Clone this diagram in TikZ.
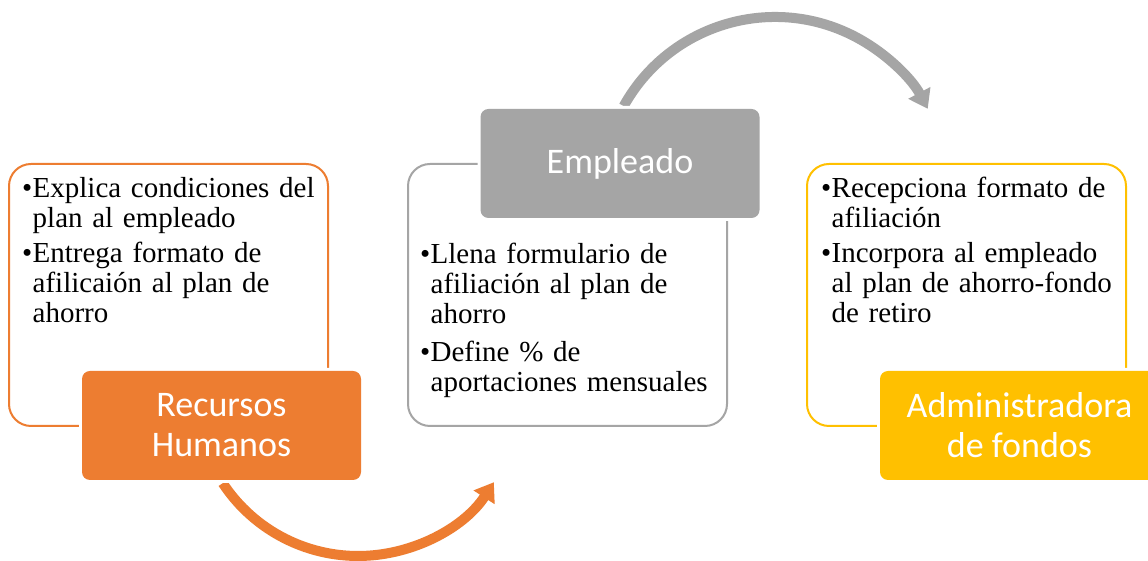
\documentclass[tikz,border=0pt]{standalone}
\usepackage{fontspec}
\setmainfont{Liberation Serif}
\newfontfamily\bodyfont{Liberation Serif}
\newfontfamily\labelfont{Carlito}
\usetikzlibrary{arrows.meta}
\definecolor{hrO}{HTML}{ED7D31}
\definecolor{empG}{HTML}{A5A5A5}
\definecolor{admY}{HTML}{FFC000}
\newcommand{\bfirst}{\noindent\makebox[10.5pt][l]{•}}
\newcommand{\bnext}[1]{\par\vspace{#1}\noindent\makebox[10.5pt][l]{•}}
\newcommand{\cont}{\newline\hspace*{10.5pt}}
\tikzset{
  x=1pt,y=1pt,
  outl/.style={rectangle, rounded corners=22pt, line width=2pt, minimum width=319pt, minimum height=262pt, inner sep=0pt},
  fillb/.style={rectangle, rounded corners=8pt, minimum width=279pt, minimum height=109pt, inner sep=0pt,
    preaction={draw=white, line width=6pt}, text=white, align=center,
    font=\labelfont\fontsize{36}{40}\selectfont},
  bodytxt/.style={anchor=base west, inner sep=0pt, text width=330pt, align=left,
    font=\bodyfont\fontsize{29}{30}\selectfont},
  bigarrow/.style={line width=10pt, -{Triangle[width=24pt,length=18pt]}},
}
\begin{document}
\begin{tikzpicture}
\clip (0,0) rectangle (1148,561);
\fill[white] (0,0) rectangle (1148,561);
% arrows (behind boxes)
\coordinate (ostart) at ({358+162*cos(213.4)},{167+162*sin(213.4)});
\coordinate (gstart) at ({775+173*cos(151)},{371+173*sin(151)});
\draw[bigarrow, hrO] (ostart) arc[start angle=213.4, end angle=327, radius=162];
\draw[bigarrow, empG] (gstart) arc[start angle=151, end angle=28, radius=173];
% left
\node[outl, draw=hrO] (rhbox) at (168.5,266) {};
\node[bodytxt] (rhtxt) at (22,363) {\bfirst Explica condiciones del\cont plan al empleado\bnext{5pt}Entrega formato de\cont afilicaión al plan de\cont ahorro};
\node[fillb, fill=hrO] (rh) at (221.5,135.5) {Recursos\\Humanos};
% middle
\node[outl, draw=empG] (embox) at (567.5,266) {};
\node[bodytxt] (emtxt) at (420,297) {\bfirst Llena formulario de\cont afiliación al plan de\cont ahorro\bnext{8pt}Define \% de\cont aportaciones mensuales};
\node[fillb, fill=empG] (em) at (620,397.5) {Empleado};
% right
\node[outl, draw=admY] (adbox) at (966.5,266) {};
\node[bodytxt] (adtxt) at (821,363) {\bfirst Recepciona formato de\cont afiliación\bnext{5pt}Incorpora al empleado\cont al plan de ahorro-fondo\cont de retiro};
\node[fillb, fill=admY] (ad) at (1019.5,135.5) {Administradora\\de fondos};
\end{tikzpicture}
\end{document}
